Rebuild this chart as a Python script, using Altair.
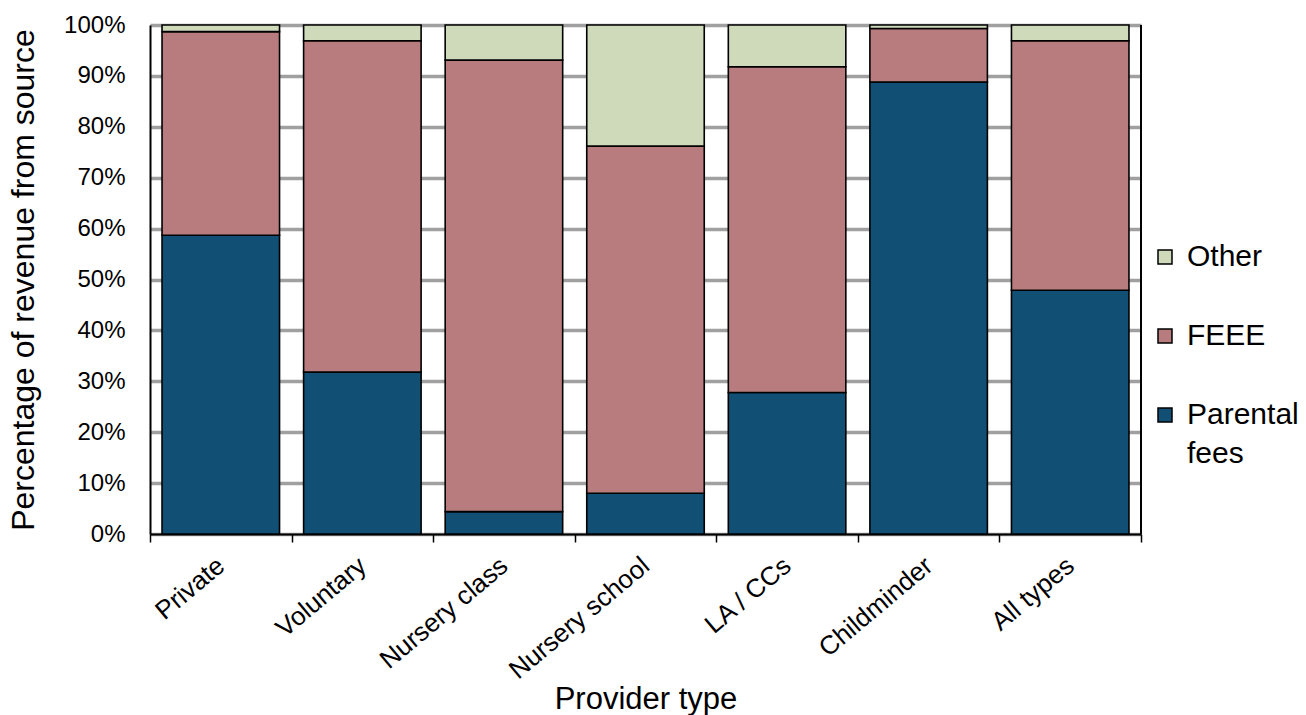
import altair as alt
import pandas as pd

# Revenue shares (%) by provider type
providers = ["Private", "Voluntary", "Nursery class", "Nursery school",
             "LA / CCs", "Childminder", "All types"]
parental_fees = [58.7, 31.8, 4.4, 8.0, 27.8, 88.8, 47.9]
feee = [40.0, 65.1, 88.7, 68.2, 64.0, 10.5, 49.0]
other = [1.3, 3.1, 6.9, 23.8, 8.2, 0.7, 3.1]

sources = ["Other", "FEEE", "Parental fees"]
colors = ["#CFDABB", "#B97C7E", "#114F74"]
stack_rank = {"Parental fees": 0, "FEEE": 1, "Other": 2}

rows = []
for i, p in enumerate(providers):
    for name, vals in (("Parental fees", parental_fees), ("FEEE", feee), ("Other", other)):
        rows.append({"provider": p, "source": name, "share": vals[i] / 100.0,
                     "rank": stack_rank[name]})
df = pd.DataFrame(rows)

FONT = "Liberation Sans"
W, H = 991, 509
LEFT, TOP = 150, 25
TOTAL_W, TOTAL_H = 1306, 715

# Bands fill the axis so category ticks fall between bars; bars take 83% of a band.
bars = alt.Chart(df).mark_bar(stroke="black", strokeWidth=1.6,
                              width=alt.RelativeBandSize(0.83)).encode(
    x=alt.X("provider:N", sort=providers,
            scale=alt.Scale(paddingInner=0, paddingOuter=0),
            axis=alt.Axis(title="Provider type", labelAngle=320, labelAlign="right",
                          labelBaseline="middle", labelFontSize=26, labelFont=FONT,
                          labelColor="black", labelPadding=20,
                          tickBand="extent", ticks=True, tickSize=8, tickColor="black",
                          tickWidth=1.5, domainColor="black", domainWidth=2,
                          grid=False, titleFontSize=31, titleFont=FONT,
                          titleFontWeight="normal", titleColor="black",
                          titleY=174, titleBaseline="alphabetic")),
    y=alt.Y("share:Q", stack="zero",
            scale=alt.Scale(domain=[0, 1], nice=False),
            axis=alt.Axis(title="Percentage of revenue from source", format=".0%",
                          values=[i / 10 for i in range(11)],
                          labelFontSize=24, labelFont=FONT, labelColor="black",
                          labelPadding=25, ticks=False, domainColor="black",
                          domainWidth=2, grid=True, gridColor="#A0A0A0",
                          gridWidth=3.5, titleFontSize=32, titleFont=FONT,
                          titleFontWeight="normal", titleColor="black",
                          titleX=-127, titleBaseline="middle")),
    color=alt.Color("source:N",
                    scale=alt.Scale(domain=sources, range=colors),
                    legend=alt.Legend(title=None, orient="none", legendX=1000,
                                      legendY=217, symbolType="square",
                                      symbolSize=196, symbolStrokeColor="black",
                                      symbolStrokeWidth=1.5, symbolOpacity=1,
                                      labelFontSize=30, labelFont=FONT,
                                      labelColor="black", labelOffset=7,
                                      rowPadding=49, padding=0,
                                      labelExpr="datum.label == 'Parental fees' ? ['Parental', 'fees'] : datum.label")),
    order=alt.Order("rank:Q", sort="ascending"),
)

right_edge = alt.Chart(df).mark_rule(color="black", strokeWidth=2).encode(
    x=alt.value(W), y=alt.value(0), y2=alt.value(H)
)

chart = alt.layer(bars, right_edge).properties(
    width=W, height=H,
    autosize=alt.AutoSizeParams(type="none"),
    padding={"left": LEFT, "top": TOP,
             "right": TOTAL_W - LEFT - W, "bottom": TOTAL_H - TOP - H},
).configure(
    background="white",
    view=alt.ViewConfig(strokeWidth=0),
    style={"guide-label": {"lineHeight": 39}},
)

chart.save("out.html", embed_options={"renderer": "svg", "actions": False})
